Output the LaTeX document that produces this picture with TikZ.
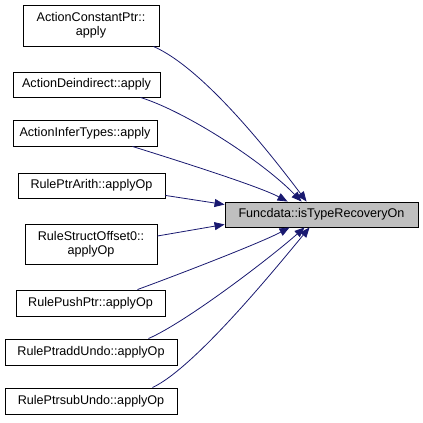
\documentclass[tikz,border=0pt]{standalone}
\usepackage{fontspec}
\setmainfont{Liberation Sans}
\usetikzlibrary{arrows.meta,calc}
\definecolor{edgeblue}{HTML}{191970}
\definecolor{targetgray}{HTML}{BFBFBF}
\begin{document}
\begin{tikzpicture}[x=1pt,y=1pt,
  fn/.style={draw=black,line width=0.9pt,fill=white,inner sep=0pt,align=center,
    font=\fontsize{12.6}{14}\selectfont},
  tgt/.style={fn,fill=targetgray},
  edge/.style={draw=edgeblue,line width=0.8pt,-{Triangle[length=10pt,width=8pt]}}]
\useasboundingbox (0,0) rectangle (423,423);
\node[fn,minimum width=136pt,minimum height=41pt] (n1) at (91,397.5) {ActionConstantPtr::\\apply};
\node[fn,minimum width=147pt,minimum height=25pt] (n2) at (86.5,338.5) {ActionDeindirect::apply};
\node[fn,minimum width=144pt,minimum height=26pt] (n3) at (85,290) {ActionInferTypes::apply};
\node[fn,minimum width=147pt,minimum height=25pt] (n4) at (91.5,237.5) {RulePtrArith::applyOp};
\node[fn,minimum width=132pt,minimum height=40pt] (n5) at (91,179) {RuleStructOffset0::\\applyOp};
\node[fn,minimum width=149pt,minimum height=26pt] (n6) at (90.5,120) {RulePushPtr::applyOp};
\node[fn,minimum width=172pt,minimum height=26pt] (n7) at (91,71) {RulePtraddUndo::applyOp};
\node[fn,minimum width=172pt,minimum height=26pt] (n8) at (91,22) {RulePtrsubUndo::applyOp};
\node[tgt,minimum width=193pt,minimum height=25pt] (t) at (321.5,208.5) {Funcdata::isTypeRecoveryOn};
\draw[edge] ($(n1.south east)+(-6,0)$) .. controls +(50,-22) and +(-37,49) .. ($(t.north west)+(82,0)$);
\draw[edge] ($(n2.south east)+(-20,0)$) .. controls +(45,-14) and +(-40,41) .. ($(t.north west)+(77,0)$);
\draw[edge] ($(n3.south east)+(-25,0)$) .. controls +(48,-15) and +(-28,15) .. ($(t.north west)+(63,0)$);
\draw[edge] ($(n4.south east)+(0,3)$) -- ($(t.north west)+(0,-3)$);
\draw[edge] ($(n5.east)+(0,8)$) -- ($(t.south west)+(0,3)$);
\draw[edge] ($(n6.north east)+(-28,0)$) .. controls +(33,12) and +(-30,-16) .. ($(t.south west)+(65,0)$);
\draw[edge] ($(n7.north east)+(-29,0)$) .. controls +(37,16) and +(-35,-31) .. ($(t.south west)+(80,0)$);
\draw[edge] ($(n8.north east)+(-25,0)$) .. controls +(43,20) and +(-30,-36) .. ($(t.south west)+(85,0)$);
\end{tikzpicture}
\end{document}
